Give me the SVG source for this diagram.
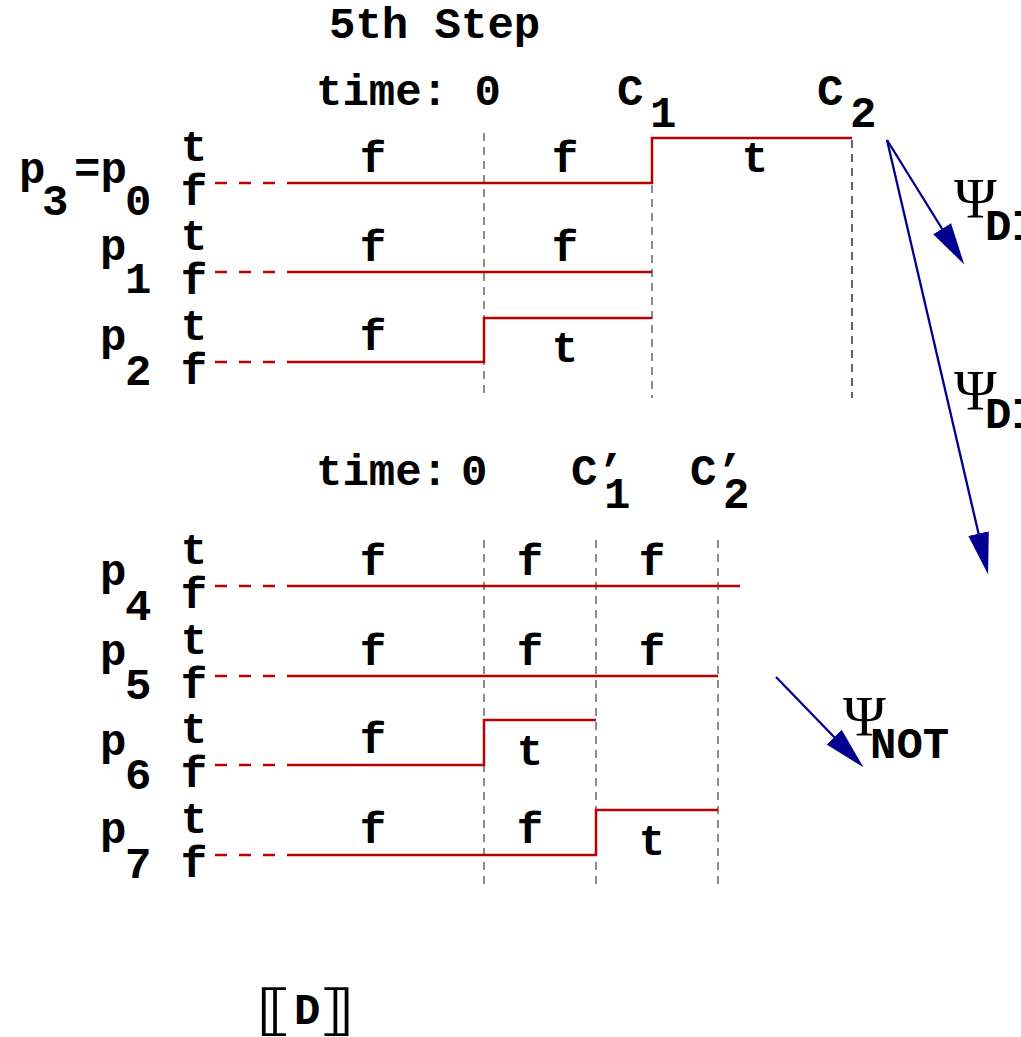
<svg xmlns="http://www.w3.org/2000/svg" width="1021" height="1037" viewBox="0 0 1021 1037">
<defs>
<style>
.m{font-family:"Liberation Mono","Courier New",monospace;font-weight:bold;font-size:44px;fill:#000}
.c{text-anchor:middle}
.psi{font-family:"Liberation Serif","Times New Roman",serif;font-size:58px;fill:#000}
.br{font-family:"DejaVu Sans",sans-serif;font-size:55px;fill:#000}
.sig{fill:none;stroke:#b80000;stroke-width:2.5}
.lead{fill:none;stroke:#b80000;stroke-width:2.5;stroke-dasharray:12 12}
.grid{fill:none;stroke:#666;stroke-width:1.5;stroke-dasharray:8 6}
.gridk{fill:none;stroke:#000;stroke-width:1.2;stroke-dasharray:8 6}
.arr{fill:none;stroke:#000090;stroke-width:2.3;marker-end:url(#ah)}
</style>
<marker id="ah" markerUnits="userSpaceOnUse" markerWidth="42" markerHeight="22" viewBox="0 0 40 20" refX="30" refY="10" orient="auto">
<path d="M0,0 L40,10 L0,20 z" fill="#000090"/>
</marker>
</defs>
<rect width="1021" height="1037" fill="#fff"/>

<g id="title"><text class="m" x="329" y="38">5th Step</text></g>

<g id="axis-top">
<text class="m" x="316" y="105">time: 0</text>
<text class="m" x="617" y="105">C</text><text class="m" x="650" y="127">1</text>
<text class="m" x="817" y="105">C</text><text class="m" x="850" y="127">2</text>
<line class="grid" x1="484" y1="133" x2="484" y2="398"/>
<line class="grid" x1="652" y1="185" x2="652" y2="398"/>
<line class="gridk" x1="852" y1="140" x2="852" y2="398"/>
</g>

<g id="row-p0">
<text class="m" x="19" y="183">p</text><text class="m" x="42" y="215">3</text>
<text class="m" x="74" y="183">=p</text><text class="m" x="125" y="215">0</text>
<text class="m c" x="194" y="161">t</text><text class="m c" x="194" y="205">f</text>
<line class="lead" x1="215" y1="183" x2="290" y2="183"/>
<path class="sig" d="M290,183 H652 V138 H852"/>
<text class="m c" x="373" y="172">f</text><text class="m c" x="565" y="172">f</text><text class="m c" x="755" y="172">t</text>
</g>

<g id="row-p1">
<text class="m" x="100" y="260">p</text><text class="m" x="125" y="293">1</text>
<text class="m c" x="194" y="250">t</text><text class="m c" x="194" y="294">f</text>
<line class="lead" x1="215" y1="272" x2="290" y2="272"/>
<path class="sig" d="M290,272 H652"/>
<text class="m c" x="373" y="261">f</text><text class="m c" x="565" y="261">f</text>
</g>

<g id="row-p2">
<text class="m" x="100" y="350">p</text><text class="m" x="125" y="385">2</text>
<text class="m c" x="194" y="340">t</text><text class="m c" x="194" y="384">f</text>
<line class="lead" x1="215" y1="362" x2="290" y2="362"/>
<path class="sig" d="M290,362 H484 V318 H652"/>
<text class="m c" x="373" y="350">f</text><text class="m c" x="565" y="362">t</text>
</g>

<g id="axis-bottom">
<text class="m" x="316" y="485">time:<tspan x="461">0</tspan></text>
<text class="m" x="571" y="485">C’</text><text class="m" x="604" y="508">1</text>
<text class="m" x="690" y="485">C’</text><text class="m" x="723" y="508">2</text>
<line class="grid" x1="484" y1="540" x2="484" y2="890"/>
<line class="grid" x1="596" y1="540" x2="596" y2="890"/>
<line class="grid" x1="718" y1="540" x2="718" y2="890"/>
</g>

<g id="row-p4">
<text class="m" x="100" y="585">p</text><text class="m" x="125" y="620">4</text>
<text class="m c" x="194" y="564">t</text><text class="m c" x="194" y="608">f</text>
<line class="lead" x1="215" y1="586" x2="290" y2="586"/>
<path class="sig" d="M290,586 H740"/>
<text class="m c" x="373" y="575">f</text><text class="m c" x="530" y="575">f</text><text class="m c" x="652" y="575">f</text>
</g>

<g id="row-p5">
<text class="m" x="100" y="665">p</text><text class="m" x="125" y="699">5</text>
<text class="m c" x="194" y="654">t</text><text class="m c" x="194" y="698">f</text>
<line class="lead" x1="215" y1="676" x2="290" y2="676"/>
<path class="sig" d="M290,676 H718"/>
<text class="m c" x="373" y="665">f</text><text class="m c" x="530" y="665">f</text><text class="m c" x="652" y="665">f</text>
</g>

<g id="row-p6">
<text class="m" x="100" y="755">p</text><text class="m" x="125" y="789">6</text>
<text class="m c" x="194" y="743">t</text><text class="m c" x="194" y="787">f</text>
<line class="lead" x1="215" y1="765" x2="290" y2="765"/>
<path class="sig" d="M290,765 H484 V720 H596"/>
<text class="m c" x="373" y="753">f</text><text class="m c" x="530" y="765">t</text>
</g>

<g id="row-p7">
<text class="m" x="100" y="843">p</text><text class="m" x="125" y="878">7</text>
<text class="m c" x="194" y="833">t</text><text class="m c" x="194" y="877">f</text>
<line class="lead" x1="215" y1="855" x2="290" y2="855"/>
<path class="sig" d="M290,855 H596 V810 H718"/>
<text class="m c" x="373" y="843">f</text><text class="m c" x="530" y="843">f</text><text class="m c" x="652" y="855">t</text>
</g>

<g id="connectors">
<line class="arr" x1="887" y1="140" x2="958.7" y2="255.5"/>
<line class="arr" x1="887" y1="140" x2="985.7" y2="564.3"/>
<line class="arr" x1="776" y1="677" x2="856.1" y2="759.8"/>
</g>

<g id="label-psi-di-1"><text class="psi" x="954" y="218">Ψ</text><text class="m" x="985" y="240">DI</text></g>
<g id="label-psi-di-2"><text class="psi" x="954" y="410">Ψ</text><text class="m" x="985" y="428">DI</text></g>
<g id="label-psi-not"><text class="psi" x="843" y="736">Ψ</text><text class="m" x="870" y="758">NOT</text></g>

<g id="semantics">
<text class="br" transform="translate(255,1029) scale(1.4,1)">⟦</text>
<text class="m" x="294" y="1024">D</text>
<text class="br" transform="translate(318,1029) scale(1.4,1)">⟧</text>
</g>
</svg>
